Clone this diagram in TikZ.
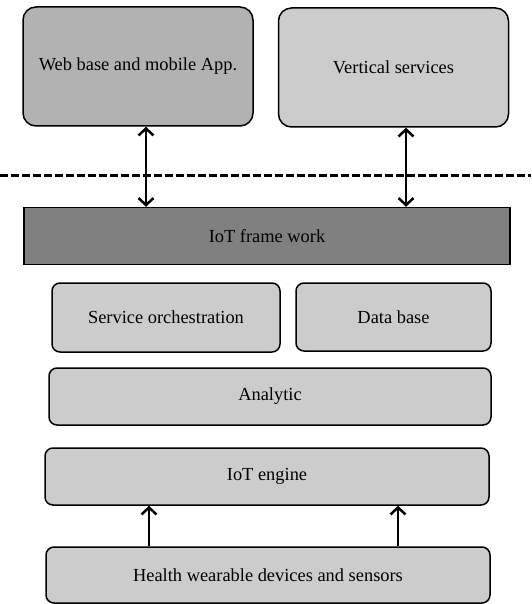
\documentclass[tikz,border=0pt]{standalone}
\usepackage{fontspec}
\setmainfont{Liberation Serif}
\usepackage{tikz}
\usetikzlibrary{shapes,arrows.meta}

\begin{document}
\begin{tikzpicture}[x=1pt,y=-1pt]
\tikzstyle{layer} = [draw,rounded corners=8pt,fill=gray!40,line width=1.5pt,inner sep=0pt,font=\fontsize{18.4}{22}\selectfont];
\tikzstyle{app} = [layer,rounded corners=13pt,minimum width=230pt,minimum height=119pt];
\tikzstyle{link} = [line width=2.5pt,{Straight Barb[length=7pt,width=15pt]}-{Straight Barb[length=7pt,width=15pt]}];
\tikzstyle{feed} = [line width=2.5pt,-{Straight Barb[length=7pt,width=15pt]}];
\useasboundingbox (0,0) rectangle (531,604);

% top: applications
\node [app,fill=gray!60] (web) at (138,66.5) {Web base and mobile App.};
\node [app] (vert) at (393.5,67.5) {Vertical services};
\coordinate (sepL) at (0,175);
\coordinate (sepR) at (531,175);
\draw [line width=3pt,dash pattern=on 7.5pt off 3.5pt] (sepL) -- (sepR);

% framework and layers
\node [layer,rounded corners=0pt,fill=gray,minimum width=486pt,minimum height=57pt] (frame) at (267,236) {IoT frame work};
\node [layer,minimum width=228pt,minimum height=69pt] (orch) at (166,317.5) {Service orchestration};
\node [layer,minimum width=195pt,minimum height=68pt] (db) at (393.5,317) {Data base};
\node [layer,minimum width=442pt,minimum height=57pt] (ana) at (270,396.5) {Analytic};
\node [layer,minimum width=444pt,minimum height=57pt] (eng) at (267,476.5) {IoT engine};
\node [layer,minimum width=444pt,minimum height=56pt] (health) at (268,575) {Health wearable devices and sensors};

\draw [link] ([xshift=8pt]web.south) -- ([xshift=8pt]web.south |- frame.north);
\draw [link] ([xshift=12.5pt]vert.south) -- ([xshift=12.5pt]vert.south |- frame.north);
\draw [feed] ([xshift=-119pt]health.north) -- ([xshift=-119pt]health.north |- eng.south);
\draw [feed] ([xshift=130pt]health.north) -- ([xshift=130pt]health.north |- eng.south);

\end{tikzpicture}
\end{document}
